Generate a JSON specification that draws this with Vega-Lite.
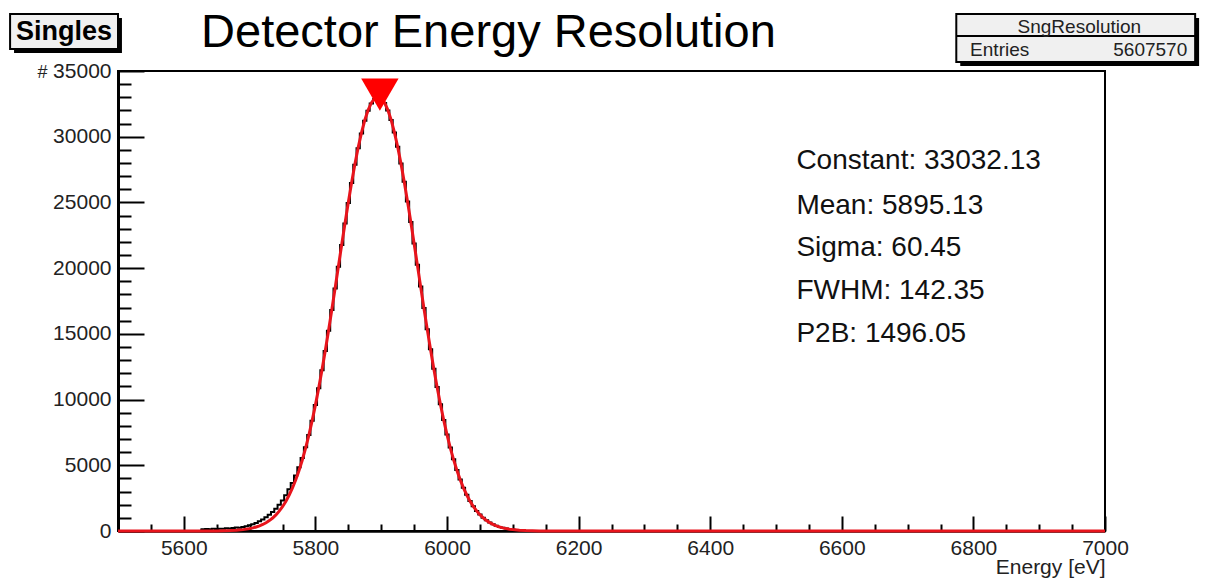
{
  "$schema": "https://vega.github.io/schema/vega-lite/v6.json",
  "width": 987,
  "height": 460,
  "autosize": {"type": "none"},
  "padding": {"left": 118, "top": 71, "right": 101, "bottom": 49},
  "background": "white",
  "config": {
    "view": {"stroke": "black", "strokeWidth": 2},
    "axis": {"grid": false, "labelFont": "Liberation Sans", "titleFont": "Liberation Sans", "labelColor": "#222", "titleColor": "#222", "labelFlush": false, "labelOverlap": false, "labelBound": false, "domainColor": "black", "tickColor": "black", "format": "d"}
  },
  "datasets": {
    "hist": [
      {"E": 5625, "n": 120}, {"E": 5630, "n": 140}, {"E": 5635, "n": 160}, {"E": 5640, "n": 130}, {"E": 5645, "n": 170},
      {"E": 5650, "n": 150}, {"E": 5655, "n": 180}, {"E": 5660, "n": 170}, {"E": 5665, "n": 200}, {"E": 5670, "n": 190},
      {"E": 5675, "n": 220}, {"E": 5680, "n": 260}, {"E": 5685, "n": 250}, {"E": 5690, "n": 310}, {"E": 5695, "n": 360},
      {"E": 5700, "n": 430}, {"E": 5705, "n": 520}, {"E": 5710, "n": 610}, {"E": 5715, "n": 740}, {"E": 5720, "n": 880},
      {"E": 5725, "n": 1040}, {"E": 5730, "n": 1230}, {"E": 5735, "n": 1440}, {"E": 5740, "n": 1700}, {"E": 5745, "n": 1990},
      {"E": 5750, "n": 2330}, {"E": 5755, "n": 2720}, {"E": 5760, "n": 3170}, {"E": 5765, "n": 3660}, {"E": 5770, "n": 4220},
      {"E": 5775, "n": 4850}, {"E": 5780, "n": 5560}, {"E": 5785, "n": 6380}, {"E": 5790, "n": 7300}, {"E": 5795, "n": 8390},
      {"E": 5800, "n": 9580}, {"E": 5805, "n": 10860}, {"E": 5810, "n": 12240}, {"E": 5815, "n": 13700}, {"E": 5820, "n": 15230},
      {"E": 5825, "n": 16820}, {"E": 5830, "n": 18450}, {"E": 5835, "n": 20110}, {"E": 5840, "n": 21760}, {"E": 5845, "n": 23390},
      {"E": 5850, "n": 24960}, {"E": 5855, "n": 26470}, {"E": 5860, "n": 27860}, {"E": 5865, "n": 29130}, {"E": 5870, "n": 30250},
      {"E": 5875, "n": 31210}, {"E": 5880, "n": 31970}, {"E": 5885, "n": 32520}, {"E": 5890, "n": 32860}, {"E": 5895, "n": 32980},
      {"E": 5900, "n": 32880}, {"E": 5905, "n": 32560}, {"E": 5910, "n": 32000}, {"E": 5915, "n": 31270}, {"E": 5920, "n": 30330},
      {"E": 5925, "n": 29230}, {"E": 5930, "n": 27960}, {"E": 5935, "n": 26570}, {"E": 5940, "n": 25080}, {"E": 5945, "n": 23510},
      {"E": 5950, "n": 21880}, {"E": 5955, "n": 20250}, {"E": 5960, "n": 18600}, {"E": 5965, "n": 16960}, {"E": 5970, "n": 15360},
      {"E": 5975, "n": 13820}, {"E": 5980, "n": 12350}, {"E": 5985, "n": 10960}, {"E": 5990, "n": 9650}, {"E": 5995, "n": 8450},
      {"E": 6000, "n": 7350}, {"E": 6005, "n": 6350}, {"E": 6010, "n": 5450}, {"E": 6015, "n": 4640}, {"E": 6020, "n": 3920},
      {"E": 6025, "n": 3300}, {"E": 6030, "n": 2750}, {"E": 6035, "n": 2280}, {"E": 6040, "n": 1880}, {"E": 6045, "n": 1530},
      {"E": 6050, "n": 1250}, {"E": 6055, "n": 1010}, {"E": 6060, "n": 810}, {"E": 6065, "n": 640}, {"E": 6070, "n": 510},
      {"E": 6075, "n": 400}, {"E": 6080, "n": 310}, {"E": 6085, "n": 240}, {"E": 6090, "n": 190}, {"E": 6095, "n": 150},
      {"E": 6100, "n": 110}, {"E": 6105, "n": 80}
    ],
    "fit": [
      {"E": 5500, "f": 0}, {"E": 5600, "f": 0}, {"E": 5650, "f": 9}, {"E": 5660, "f": 17}, {"E": 5670, "f": 32},
      {"E": 5680, "f": 59}, {"E": 5690, "f": 104}, {"E": 5700, "f": 180}, {"E": 5705, "f": 235}, {"E": 5710, "f": 304},
      {"E": 5715, "f": 390}, {"E": 5720, "f": 497}, {"E": 5725, "f": 630}, {"E": 5730, "f": 792}, {"E": 5735, "f": 989},
      {"E": 5740, "f": 1227}, {"E": 5745, "f": 1512}, {"E": 5750, "f": 1850}, {"E": 5755, "f": 2249}, {"E": 5760, "f": 2717},
      {"E": 5765, "f": 3256}, {"E": 5770, "f": 3879}, {"E": 5775, "f": 4585}, {"E": 5780, "f": 5385}, {"E": 5785, "f": 6283},
      {"E": 5790, "f": 7281}, {"E": 5795, "f": 8376}, {"E": 5800, "f": 9575}, {"E": 5805, "f": 10871}, {"E": 5810, "f": 12256},
      {"E": 5815, "f": 13722}, {"E": 5820, "f": 15258}, {"E": 5825, "f": 16853}, {"E": 5830, "f": 18488}, {"E": 5835, "f": 20143},
      {"E": 5840, "f": 21795}, {"E": 5845, "f": 23420}, {"E": 5850, "f": 24999}, {"E": 5855, "f": 26501}, {"E": 5860, "f": 27899},
      {"E": 5865, "f": 29174}, {"E": 5870, "f": 30297}, {"E": 5875, "f": 31252}, {"E": 5880, "f": 32015}, {"E": 5885, "f": 32573},
      {"E": 5890, "f": 32913}, {"E": 5895, "f": 33032}, {"E": 5900, "f": 32925}, {"E": 5905, "f": 32595}, {"E": 5910, "f": 32047},
      {"E": 5915, "f": 31295}, {"E": 5920, "f": 30352}, {"E": 5925, "f": 29236}, {"E": 5930, "f": 27969}, {"E": 5935, "f": 26574},
      {"E": 5940, "f": 25078}, {"E": 5945, "f": 23506}, {"E": 5950, "f": 21881}, {"E": 5955, "f": 20229}, {"E": 5960, "f": 18574},
      {"E": 5965, "f": 16936}, {"E": 5970, "f": 15340}, {"E": 5975, "f": 13801}, {"E": 5980, "f": 12328}, {"E": 5985, "f": 10940},
      {"E": 5990, "f": 9639}, {"E": 5995, "f": 8440}, {"E": 6000, "f": 7336}, {"E": 6005, "f": 6332}, {"E": 6010, "f": 5430},
      {"E": 6015, "f": 4625}, {"E": 6020, "f": 3911}, {"E": 6025, "f": 3286}, {"E": 6030, "f": 2742}, {"E": 6035, "f": 2272},
      {"E": 6040, "f": 1870}, {"E": 6045, "f": 1529}, {"E": 6050, "f": 1240}, {"E": 6055, "f": 1000}, {"E": 6060, "f": 801},
      {"E": 6065, "f": 637}, {"E": 6070, "f": 503}, {"E": 6075, "f": 395}, {"E": 6080, "f": 308}, {"E": 6085, "f": 238},
      {"E": 6090, "f": 183}, {"E": 6095, "f": 140}, {"E": 6100, "f": 106}, {"E": 6110, "f": 60}, {"E": 6120, "f": 33},
      {"E": 6140, "f": 8}, {"E": 6200, "f": 0}, {"E": 7000, "f": 0}
    ],
    "peak": [{"E": 5898, "c": 33200}],
    "stats": [
      {"label": "Constant: 33032.13", "E": 6531, "c": 28152},
      {"label": "Mean: 5895.13", "E": 6531, "c": 24728},
      {"label": "Sigma: 60.45", "E": 6531, "c": 21533},
      {"label": "FWHM: 142.35", "E": 6531, "c": 18261},
      {"label": "P2B: 1496.05", "E": 6531, "c": 14989}
    ],
    "one": [{}]
  },
  "resolve": {"axis": {"x": "independent", "y": "independent"}},
  "layer": [
    {
      "data": {"name": "hist"},
      "mark": {"type": "line", "interpolate": "step", "color": "black", "strokeWidth": 2},
      "encoding": {
        "x": {"field": "E", "type": "quantitative", "scale": {"domain": [5500, 7000], "nice": false, "zero": false},
          "axis": {"orient": "bottom", "values": [5600, 5800, 6000, 6200, 6400, 6600, 6800, 7000], "ticks": false, "labelFontSize": 21, "labelPadding": 6, "domainWidth": 2.5,
            "title": "Energy [eV]", "titleFontSize": 21, "titleFontWeight": "normal", "titleX": 987, "titleY": 36, "titleAlign": "right", "titleBaseline": "middle", "titleAnchor": null}},
        "y": {"field": "n", "type": "quantitative", "scale": {"domain": [0, 35000], "nice": false},
          "axis": {"orient": "left", "values": [0, 5000, 10000, 15000, 20000, 25000, 30000, 35000], "ticks": false, "labelFontSize": 21, "labelPadding": 7, "domainWidth": 3,
            "title": "#", "titleFontSize": 18, "titleFontWeight": "normal", "titleAngle": 0, "titleX": -76, "titleY": 1, "titleAlign": "center", "titleBaseline": "middle", "titleAnchor": null}}
      }
    },
    {
      "data": {"name": "fit"},
      "mark": {"type": "line", "color": "#e8141c", "strokeWidth": 3},
      "encoding": {
        "x": {"field": "E", "type": "quantitative",
          "axis": {"orient": "bottom", "values": [5600, 5800, 6000, 6200, 6400, 6600, 6800, 7000], "labels": false, "domain": false, "tickSize": -15, "tickWidth": 2, "title": null}},
        "y": {"field": "f", "type": "quantitative",
          "axis": {"orient": "left", "values": [0, 5000, 10000, 15000, 20000, 25000, 30000, 35000], "labels": false, "domain": false, "tickSize": -26, "tickWidth": 2, "title": null}}
      }
    },
    {
      "data": {"name": "peak"},
      "mark": {"type": "point", "shape": "triangle-down", "filled": true, "color": "#ff0000", "opacity": 1, "size": 1400},
      "encoding": {
        "x": {"field": "E", "type": "quantitative",
          "axis": {"orient": "bottom", "values": [5550, 5650, 5700, 5750, 5850, 5900, 5950, 6050, 6100, 6150, 6250, 6300, 6350, 6450, 6500, 6550, 6650, 6700, 6750, 6850, 6900, 6950], "labels": false, "domain": false, "tickSize": -7, "tickWidth": 2, "title": null}},
        "y": {"field": "c", "type": "quantitative",
          "axis": {"orient": "left", "values": [1000, 2000, 3000, 4000, 6000, 7000, 8000, 9000, 11000, 12000, 13000, 14000, 16000, 17000, 18000, 19000, 21000, 22000, 23000, 24000, 26000, 27000, 28000, 29000, 31000, 32000, 33000, 34000], "labels": false, "domain": false, "tickSize": -13, "tickWidth": 2, "title": null}}
      }
    },
    {
      "data": {"name": "stats"},
      "mark": {"type": "text", "align": "left", "baseline": "middle", "font": "Liberation Sans", "fontSize": 28, "color": "#111"},
      "encoding": {
        "x": {"field": "E", "type": "quantitative", "axis": null},
        "y": {"field": "c", "type": "quantitative", "axis": null},
        "text": {"field": "label"}
      }
    },
    {
      "data": {"name": "one"},
      "mark": {"type": "text", "align": "center", "baseline": "alphabetic", "font": "Liberation Sans", "fontSize": 47, "color": "black", "text": "Detector Energy Resolution"},
      "encoding": {
        "x": {"datum": 6063, "type": "quantitative", "axis": null},
        "y": {"datum": 36826, "type": "quantitative", "axis": null}
      }
    },
    {
      "data": {"name": "one"},
      "mark": {"type": "rect", "color": "black"},
      "encoding": {
        "x": {"datum": 5342, "type": "quantitative", "axis": null}, "x2": {"datum": 5506},
        "y": {"datum": 39033, "type": "quantitative", "axis": null}, "y2": {"datum": 36370}
      }
    },
    {
      "data": {"name": "one"},
      "mark": {"type": "rect", "fill": "#f0f0f0", "stroke": "black", "strokeWidth": 2},
      "encoding": {
        "x": {"datum": 5336, "type": "quantitative", "axis": null}, "x2": {"datum": 5500},
        "y": {"datum": 39337, "type": "quantitative", "axis": null}, "y2": {"datum": 36674}
      }
    },
    {
      "data": {"name": "one"},
      "mark": {"type": "text", "align": "center", "baseline": "middle", "font": "Liberation Sans", "fontSize": 27, "fontWeight": "bold", "color": "black", "text": "Singles"},
      "encoding": {
        "x": {"datum": 5418, "type": "quantitative", "axis": null},
        "y": {"datum": 37967, "type": "quantitative", "axis": null}
      }
    },
    {
      "data": {"name": "one"},
      "mark": {"type": "rect", "color": "black"},
      "encoding": {
        "x": {"datum": 6780, "type": "quantitative", "axis": null}, "x2": {"datum": 7143},
        "y": {"datum": 39033, "type": "quantitative", "axis": null}, "y2": {"datum": 35380}
      }
    },
    {
      "data": {"name": "one"},
      "mark": {"type": "rect", "fill": "#f0f0f0", "stroke": "black", "strokeWidth": 2},
      "encoding": {
        "x": {"datum": 6774, "type": "quantitative", "axis": null}, "x2": {"datum": 7137},
        "y": {"datum": 39337, "type": "quantitative", "axis": null}, "y2": {"datum": 35685}
      }
    },
    {
      "data": {"name": "one"},
      "mark": {"type": "rule", "color": "black", "strokeWidth": 2},
      "encoding": {
        "x": {"datum": 6774, "type": "quantitative", "axis": null}, "x2": {"datum": 7137},
        "y": {"datum": 37663, "type": "quantitative", "axis": null}
      }
    },
    {
      "data": {"name": "one"},
      "mark": {"type": "text", "align": "center", "baseline": "middle", "font": "Liberation Sans", "fontSize": 19, "color": "#222", "text": "SngResolution"},
      "encoding": {
        "x": {"datum": 6961, "type": "quantitative", "axis": null},
        "y": {"datum": 38348, "type": "quantitative", "axis": null}
      }
    },
    {
      "data": {"name": "one"},
      "mark": {"type": "text", "align": "left", "baseline": "middle", "font": "Liberation Sans", "fontSize": 19, "color": "#222", "text": "Entries"},
      "encoding": {
        "x": {"datum": 6795, "type": "quantitative", "axis": null},
        "y": {"datum": 36598, "type": "quantitative", "axis": null}
      }
    },
    {
      "data": {"name": "one"},
      "mark": {"type": "text", "align": "right", "baseline": "middle", "font": "Liberation Sans", "fontSize": 19, "color": "#222", "text": "5607570"},
      "encoding": {
        "x": {"datum": 7125, "type": "quantitative", "axis": null},
        "y": {"datum": 36598, "type": "quantitative", "axis": null}
      }
    }
  ]
}
